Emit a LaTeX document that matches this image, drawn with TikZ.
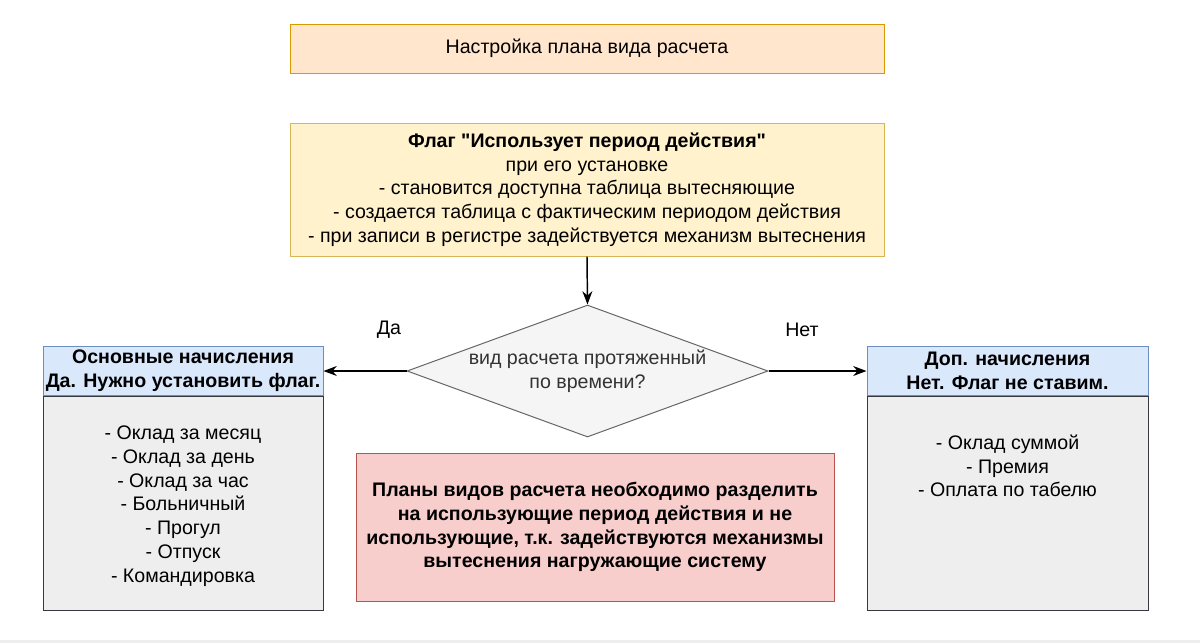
\documentclass[tikz,border=0pt]{standalone}
\usepackage{fontspec}
\setmainfont{Liberation Sans}
\newfontfamily\qfont{Liberation Sans}
\usetikzlibrary{arrows.meta,shapes.geometric}
\definecolor{orfill}{HTML}{FFE6CC}\definecolor{ordraw}{HTML}{D79B00}
\definecolor{yefill}{HTML}{FFF2CC}\definecolor{yedraw}{HTML}{D6B656}
\definecolor{blfill}{HTML}{DAE8FC}\definecolor{bldraw}{HTML}{6C8EBF}
\definecolor{grfill}{HTML}{EEEEEE}\definecolor{grdraw}{HTML}{36393D}
\definecolor{refill}{HTML}{F8CECC}\definecolor{redraw}{HTML}{B85450}
\definecolor{difill}{HTML}{F5F5F5}\definecolor{didraw}{HTML}{666666}
\definecolor{ditext}{HTML}{333333}
\newcommand{\sq}{{\qfont\bfseries "}}
\begin{document}
\begin{tikzpicture}[x=0.75pt,y=-0.75pt,
  every node/.style={font=\fontsize{14.7}{17.8}\selectfont, align=center, inner sep=0pt},
  box/.style={draw, line width=0.75pt, rectangle},
  conn/.style={line width=1.1pt, -{Stealth[length=10pt,width=7.5pt]}}]
\useasboundingbox (0,0) rectangle (1200,643);
\fill[grfill] (0,640) rectangle (1200,643);
% top
\node[box, fill=orfill, draw=ordraw, minimum width=445.5pt, minimum height=36.75pt] (top) at (587,48.5) {Настройка плана вида расчета};
% flag box
\node[box, fill=yefill, draw=yedraw, minimum width=445.5pt, minimum height=99.75pt] (flag) at (587,189.5) {\textbf{Флаг \sq Использует период действия\sq}\\при его установке\\- становится доступна таблица вытесняющие\\- создается таблица с фактическим периодом действия\\- при записи в регистре задействуется механизм вытеснения};
% diamond
\node[diamond, draw=didraw, fill=difill, line width=0.75pt, minimum width=270.75pt, minimum height=99pt] (dia) at (587.5,371) {};
\node[text=ditext] (diat) at (dia.center) {вид расчета протяженный\\по времени?};
% left
\node[box, fill=blfill, draw=bldraw, minimum width=210pt, minimum height=36.75pt] (lh) at (183,370.5) {\textbf{Основные начисления}\\\textbf{Да. Нужно установить флаг.}};
\node[box, fill=grfill, draw=grdraw, minimum width=210pt, minimum height=160.5pt, anchor=north] (lb) at (lh.south) {};
\node (lbt) at (183,506) {- Оклад за месяц\\- Оклад за день\\- Оклад за час\\- Больничный\\- Прогул\\- Отпуск\\- Командировка};
% right
\node[box, fill=blfill, draw=bldraw, minimum width=210.75pt, minimum height=36.75pt] (rh) at (1007.5,370.5) {\textbf{Доп. начисления}\\\textbf{Нет. Флаг не ставим.}};
\node[box, fill=grfill, draw=grdraw, minimum width=210.75pt, minimum height=160.5pt, anchor=north] (rb) at (rh.south) {};
\node (rbt) at (1007.5,466) {- Оклад суммой\\- Премия\\- Оплата по табелю};
% red
\node[box, fill=refill, draw=redraw, minimum width=358.5pt, minimum height=111pt] (note) at (595,527) {\textbf{Планы видов расчета необходимо разделить}\\\textbf{на использующие период действия и не}\\\textbf{использующие, т.к. задействуются механизмы}\\\textbf{вытеснения нагружающие систему}};
% connectors
\draw[conn] (flag.south) -- (dia.north);
\draw[conn] (dia.west) -- (lh.east |- dia.west);
\draw[conn] (dia.east) -- (rh.west |- dia.east);
\node (da) at (389,330) {Да};
\node (net) at (802,330) {Нет};
\end{tikzpicture}
\end{document}
